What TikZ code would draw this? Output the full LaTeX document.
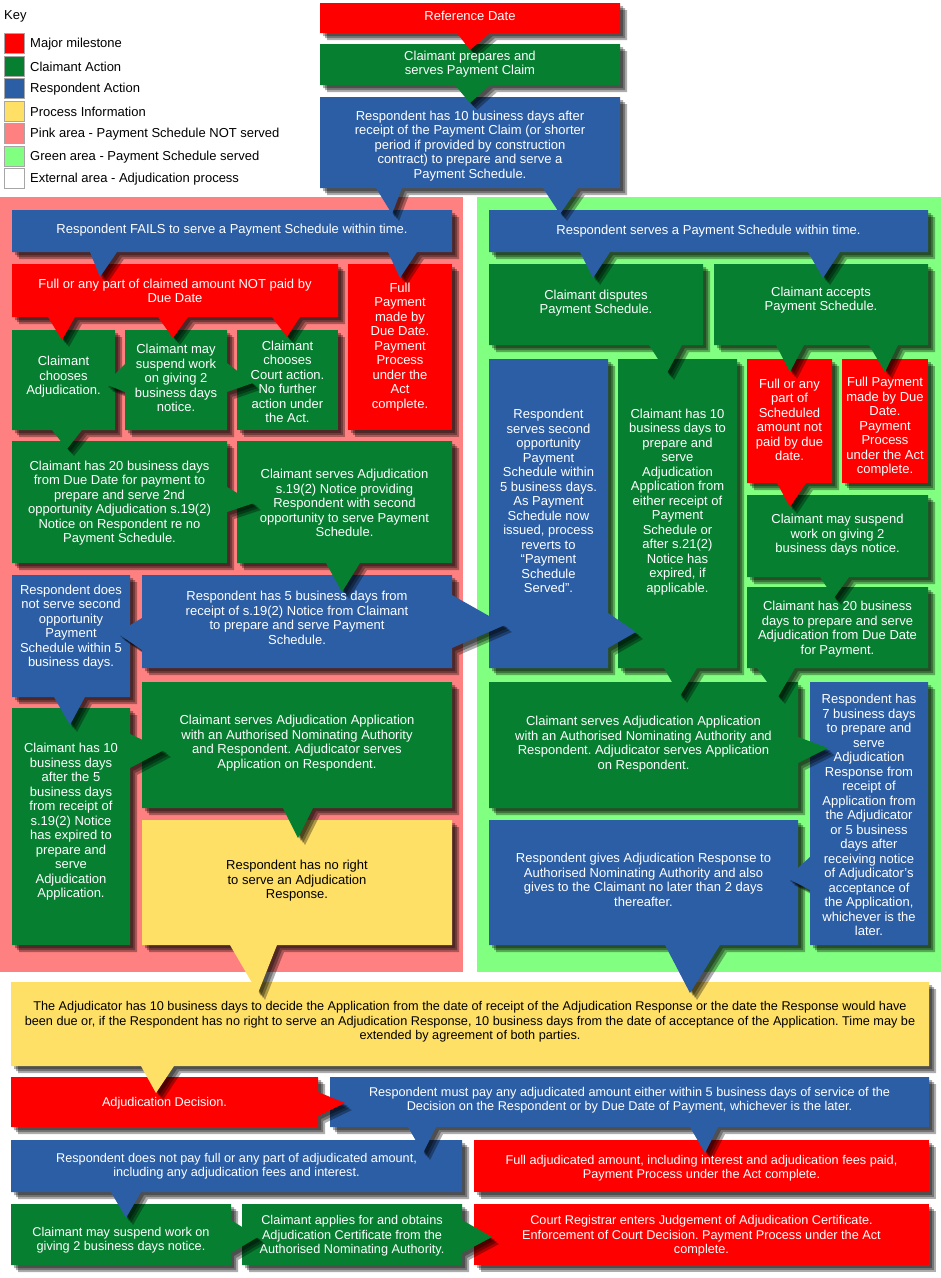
\documentclass[tikz,border=0pt]{standalone}
\usepackage{fontspec}
\setmainfont{Liberation Sans}
\frenchspacing
\pgfdeclarelayer{shapes}
\pgfsetlayers{shapes,main}
\definecolor{cR}{HTML}{FF0000}
\definecolor{cG}{HTML}{067F30}
\definecolor{cB}{HTML}{2C5EA5}
\definecolor{cY}{HTML}{FFE066}
\definecolor{cPink}{HTML}{FF8080}
\definecolor{cLG}{HTML}{80FF80}
\tikzset{
  txt/.style={align=center, inner sep=0pt, font=\fontsize{13}{14.5}\selectfont\frenchspacing},
  fR/.style={fill=cR}, tR/.style={text=white},
  fG/.style={fill=cG}, tG/.style={text=white},
  fB/.style={fill=cB}, tB/.style={text=white},
  fY/.style={fill=cY}, tY/.style={text=black},
  keytxt/.style={anchor=west, inner sep=0pt, font=\fontsize{13}{15}\selectfont},
  swatch/.style={draw=black!35, line width=0.6pt},
  areabg/.style={draw=none}
}
% name, kind, x1, y1, x2, y2, text-y, wedges, text
\newcommand{\mycallout}[9]{%
  \begin{pgfonlayer}{shapes}
    \foreach \s in {3,5,7} {\fill[black, opacity=0.32, shift={(\s,\s)}] (#3,#4) rectangle (#5,#6) #8;}
    \fill[f#2] (#3,#4) rectangle (#5,#6) #8;
  \end{pgfonlayer}
  \node[txt, t#2] (#1) at ({(#3+#5)/2},#7) {#9};
}
\begin{document}
\begin{tikzpicture}[x=1pt,y=-1pt]
\useasboundingbox (0,0) rectangle (941,1278);
\begin{pgfonlayer}{shapes}
  \fill[white] (0,0) rectangle (941,1278);
  \fill[cPink, areabg] (0,197) rectangle (463,972);
  \fill[cLG, areabg] (477,197) rectangle (941,972);
\end{pgfonlayer}

% ---- key ----
\node[keytxt] (keyhead) at (4,16) {Key};
\foreach \y/\c/\t [count=\i] in {33/cR/Major milestone, 56/cG/Claimant Action, 78/cB/Respondent Action, 101/cY/Process Information, 123/cPink/Pink area - Payment Schedule NOT served, 146/cLG/Green area - Payment Schedule served, 168/white/External area - Adjudication process}{
  \draw[swatch, fill=\c] (4,\y) rectangle (24,\y+20);
  \node[keytxt] (key\i) at (30,\y+11) {\t};
}

% ---- external (bottom) ----
\begin{scope}[txt/.style={align=center, inner sep=0pt, font=\fontsize{12.7}{14.5}\selectfont\frenchspacing}]
\mycallout{court}{R}{474}{1204}{929}{1265}{1236}{}{Court Registrar enters Judgement of Adjudication Certificate.\\Enforcement of Court Decision. Payment Process under the Act\\complete.}
\mycallout{applies}{G}{242}{1204}{462}{1265}{1236}{(462,1220)--(492,1237)--(462,1253)--cycle}{Claimant applies for and obtains\\Adjudication Certificate from the\\Authorised Nominating Authority.}
\mycallout{suspendB}{G}{11}{1204}{231}{1265}{1240}{(231,1220)--(258,1237)--(231,1253)--cycle}{Claimant may suspend work on\\giving 2 business days notice.}
\mycallout{fullAdj}{R}{474}{1140}{929}{1192}{1168}{}{Full adjudicated amount, including interest and adjudication fees paid,\\Payment Process under the Act complete.}
\mycallout{notPay}{B}{11}{1140}{462}{1192}{1166}{(111,1192)--(126,1218)--(141,1192)--cycle}{Respondent does not pay full or any part of adjudicated amount,\\including any adjudication fees and interest.}
\mycallout{mustPay}{B}{330}{1077}{929}{1127}{1100}{(408,1127)--(423,1153)--(436,1127)--cycle (690,1127)--(705,1153)--(718,1127)--cycle}{Respondent must pay any adjudicated amount either within 5 business days of service of the\\Decision on the Respondent or by Due Date of Payment, whichever is the later.}
\mycallout{decision}{R}{11}{1077}{318}{1127}{1103}{(318,1092)--(345,1103)--(318,1116)--cycle}{Adjudication Decision.}
\mycallout{bigY}{Y}{11}{982}{929}{1066}{1022}{(141,1066)--(156,1093)--(174,1066)--cycle}{The Adjudicator has 10 business days to decide the Application from the date of receipt of the Adjudication Response or the date the Response would have\\been due or, if the Respondent has no right to serve an Adjudication Response, 10 business days from the date of acceptance of the Application. Time may be\\extended by agreement of both parties.}
\end{scope}

% ---- green area ----
\mycallout{gives}{B}{489}{820}{798}{945}{880}{(665,945)--(690,993)--(720,945)--cycle}{Respondent gives Adjudication Response to\\Authorised Nominating Authority and also\\gives to the Claimant no later than 2 days\\thereafter.}
\mycallout{sevenDays}{B}{810}{682}{928}{945}{815}{(810,857)--(787,878)--(810,890)--cycle}{Respondent has\\7 business days\\to prepare and\\serve\\Adjudication\\Response from\\receipt of\\Application from\\the Adjudicator\\or 5 business\\days after\\receiving notice\\of Adjudicator’s\\acceptance of\\the Application,\\whichever is the\\later.}
\mycallout{appG}{G}{489}{682}{798}{808}{744}{(798,737)--(828,748)--(798,763)--cycle}{Claimant serves Adjudication Application\\with an Authorised Nominating Authority and\\Respondent. Adjudicator serves Application\\on Respondent.}
\mycallout{twentyG}{G}{747}{587}{928}{668}{629}{(757,668)--(778,697)--(795,668)--cycle}{Claimant has 20 business\\days to prepare and serve\\Adjudication from Due Date\\for Payment.}
\mycallout{suspendG}{G}{747}{495}{928}{577}{535}{(820,577)--(834,598)--(849,577)--cycle}{Claimant may suspend\\work on giving 2\\business days notice.}
\mycallout{partG}{R}{747}{359}{832}{483}{420}{(777,483)--(790,507)--(806,483)--cycle}{Full or any\\part of\\Scheduled\\amount not\\paid by due\\date.}
\mycallout{fullG}{R}{842}{359}{928}{483}{427}{}{Full Payment\\made by Due\\Date.\\Payment\\Process\\under the Act\\complete.}
\mycallout{tenG}{G}{618}{359}{737}{668}{502}{(664,668)--(680,696)--(697,668)--cycle}{Claimant has 10\\business days to\\prepare and\\serve\\Adjudication\\Application from\\either receipt of\\Payment\\Schedule or\\after s.21(2)\\Notice has\\expired, if\\applicable.}
\mycallout{secondG}{B}{489}{359}{608}{668}{501}{(608,613)--(636,632)--(608,648)--cycle}{Respondent\\serves second\\opportunity\\Payment\\Schedule within\\5 business days.\\As Payment\\Schedule now\\issued, process\\reverts to\\“Payment\\Schedule\\Served”.}
\mycallout{disputes}{G}{489}{264}{703}{345}{303}{(649,345)--(667,373)--(682,345)--cycle}{Claimant disputes\\Payment Schedule.}
\mycallout{accepts}{G}{714}{264}{928}{345}{300}{(776,345)--(790,372)--(804,345)--cycle (869,345)--(885,372)--(898,345)--cycle}{Claimant accepts\\Payment Schedule.}
\mycallout{servesPS}{B}{489}{210}{928}{252}{231}{(580,252)--(593,278)--(610,252)--cycle (808,252)--(823,278)--(840,252)--cycle}{Respondent serves a Payment Schedule within time.}

% ---- pink area ----
\mycallout{noRight}{Y}{142}{820}{452}{945}{881}{(230,945)--(258,993)--(277,945)--cycle}{Respondent has no right\\to serve an Adjudication\\Response.}
\mycallout{appP}{G}{142}{682}{452}{808}{743}{(283,808)--(298,838)--(313,808)--cycle}{Claimant serves Adjudication Application\\with an Authorised Nominating Authority\\and Respondent. Adjudicator serves\\Application on Respondent.}
\mycallout{tenP}{G}{12}{708}{130}{945}{822}{(130,734)--(164,750)--(130,768)--cycle}{Claimant has 10\\business days\\after the 5\\business days\\from receipt of\\s.19(2) Notice\\has expired to\\prepare and\\serve\\Adjudication\\Application.}
\mycallout{doesNot}{B}{12}{575}{130}{697}{627}{(54,697)--(70,725)--(85,697)--cycle}{Respondent does\\not serve second\\opportunity\\Payment\\Schedule within 5\\business days.}
\mycallout{fiveDays}{B}{142}{575}{452}{668}{618}{(142,618)--(117,633)--(142,650)--cycle (452,595)--(505,625)--(452,648)--cycle}{Respondent has 5 business days from\\receipt of s.19(2) Notice from Claimant\\to prepare and serve Payment\\Schedule.}
\mycallout{serves192}{G}{237}{441}{452}{563}{503}{(326,563)--(342,592)--(360,563)--cycle}{Claimant serves Adjudication\\s.19(2) Notice providing\\Respondent with second\\opportunity to serve Payment\\Schedule.}
\mycallout{twentyP}{G}{12}{441}{227}{563}{503}{(227,487)--(254,503)--(227,512)--cycle}{Claimant has 20 business days\\from Due Date for payment to\\prepare and serve 2nd\\opportunity Adjudication s.19(2)\\Notice on Respondent re no\\Payment Schedule.}
\mycallout{chooseAdj}{G}{12}{330}{115}{430}{377}{(52,430)--(67,449)--(82,430)--cycle}{Claimant\\chooses\\Adjudication.}
\mycallout{courtAct}{G}{237}{330}{338}{430}{382}{}{Claimant\\chooses\\Court action.\\No further\\action under\\the Act.}
\mycallout{suspendP}{G}{125}{330}{227}{430}{378}{(125,364)--(105,384)--(125,392)--cycle (227,363)--(253,383)--(227,392)--cycle}{Claimant may\\suspend work\\on giving 2\\business days\\notice.}
\mycallout{notPaid}{R}{12}{264}{338}{317}{291}{(48,317)--(62,340)--(75,317)--cycle (158,317)--(173,338)--(188,317)--cycle (272,317)--(287,337)--(300,317)--cycle}{Full or any part of claimed amount NOT paid by\\Due Date}
\mycallout{fullP}{R}{348}{264}{452}{430}{347}{}{Full\\Payment\\made by\\Due Date.\\Payment\\Process\\under the\\Act\\complete.}
\mycallout{fails}{B}{12}{210}{452}{252}{230}{(90,252)--(100,277)--(117,252)--cycle (388,252)--(400,278)--(417,252)--cycle}{Respondent FAILS to serve a Payment Schedule within time.}

% ---- top ----
\mycallout{tenDays}{B}{320}{97}{620}{188}{146}{(376,188)--(392,214)--(402,188)--cycle (543,188)--(560,214)--(578,188)--cycle}{Respondent has 10 business days after\\receipt of the Payment Claim (or shorter\\period if provided by construction\\contract) to prepare and serve a\\Payment Schedule.}
\mycallout{prepares}{G}{320}{44}{620}{85}{64}{(455,85)--(470,103)--(490,85)--cycle}{Claimant prepares and\\serves Payment Claim}
\mycallout{refDate}{R}{320}{3}{620}{33}{16}{(457,33)--(470,50)--(490,33)--cycle}{Reference Date}
\end{tikzpicture}
\end{document}
